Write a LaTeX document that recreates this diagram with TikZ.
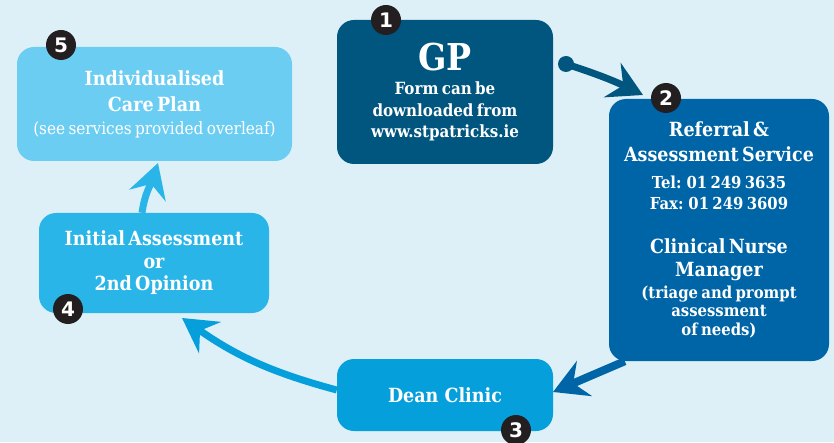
\documentclass[tikz,border=0pt]{standalone}
\usepackage{fontspec}
\setmainfont{DejaVu Serif Condensed}
\newfontfamily\badgefont{DejaVu Sans}
\usetikzlibrary{arrows.meta}
\pgfdeclarelayer{canvas}
\pgfdeclarelayer{links}
\pgfsetlayers{canvas,links,main}
\definecolor{bgc}{HTML}{DDF0F7}
\definecolor{cgp}{HTML}{00567F}
\definecolor{cref}{HTML}{0065A6}
\definecolor{cdean}{HTML}{059FDB}
\definecolor{cia}{HTML}{29B5E8}
\definecolor{ccare}{HTML}{6CCDF3}
\definecolor{cbadge}{HTML}{231F20}
\newcommand{\hd}{\fontsize{19.5}{25}\selectfont}
\newcommand{\sm}{\fontsize{16.5}{21}\selectfont}
\begin{document}
\begin{tikzpicture}[x=1pt,y=1pt,
  box/.style={rounded corners=17pt, inner sep=0pt, text=white, align=center, font=\bfseries},
  badge/.style={circle, fill=cbadge, minimum size=30pt, inner sep=0pt, text=white,
    font=\badgefont\bfseries\fontsize{20}{20}\selectfont},
  link/.style={line width=7pt, -{Stealth[length=34pt,width=38pt,inset=12pt]}}]
\useasboundingbox (0,0) rectangle (834,442);
\begin{pgfonlayer}{canvas}
\fill[bgc] (0,0) rectangle (834,442);
\end{pgfonlayer}

% boxes
\node[box, fill=cgp, minimum width=216pt, minimum height=144pt, text width=210pt] (gp) at (445,350)
  {{\fontsize{37}{38}\selectfont GP\par}\vspace{3pt}{\fontsize{16.8}{21.5}\selectfont Form can be\\downloaded from\\www.stpatricks.ie\par}};
\node[box, fill=cref, minimum width=220pt, minimum height=262pt, text width=216pt] (ref) at (719,212)
  {{\hd Referral \&\\Assessment Service\par}\vspace{6pt}
   {\sm Tel: 01 249 3635\\Fax: 01 249 3609\par}\vspace{21pt}
   {\fontsize{19.5}{23}\selectfont Clinical Nurse\\Manager\par}\vspace{3pt}
   {\fontsize{16.5}{18.5}\selectfont (triage and prompt\\assessment\\of needs)\par}};
\node[box, fill=cdean, minimum width=216pt, minimum height=72pt] (dean) at (445,47)
  {\hd Dean Clinic};
\node[box, fill=cia, minimum width=230pt, minimum height=100pt, text width=224pt] (ia) at (154,179)
  {{\fontsize{19.5}{22.5}\selectfont Initial Assessment\\or\\2nd Opinion\par}};
\node[box, fill=ccare, minimum width=275pt, minimum height=114pt, text width=270pt] (care) at (154.5,338)
  {{\fontsize{19.5}{26}\selectfont Individualised\\Care Plan\par}\vspace{-1pt}
   {\mdseries\fontsize{17}{24}\selectfont (see services provided overleaf)\par}};

% badges
\node[badge] (b1) at (386,422) {1};
\node[badge] (b2) at (666,344) {2};
\node[badge] (b3) at (516,12) {3};
\node[badge] (b4) at (68,133) {4};
\node[badge] (b5) at (61,397) {5};

% connectors
\coordinate (a1s) at (566,378);
\coordinate (a1e) at (643,347);
\coordinate (a2e) at (553,50);
\coordinate (a3e) at (182,124);
\coordinate (a4e) at (158,279);
\begin{pgfonlayer}{links}
\fill[cgp] (a1s) circle (8pt);
\draw[link, cgp] (a1s) to[bend left=4] (a1e);
\draw[link, cref, line width=8pt] ([xshift=16pt]ref.south west) -- (a2e);
\draw[link, cdean] ([yshift=5pt]dean.west) to[out=165, in=-35] (a3e);
\draw[link, cia] ([xshift=-12pt]ia.north) to[out=82, in=-108] (a4e);
\end{pgfonlayer}
\end{tikzpicture}
\end{document}
